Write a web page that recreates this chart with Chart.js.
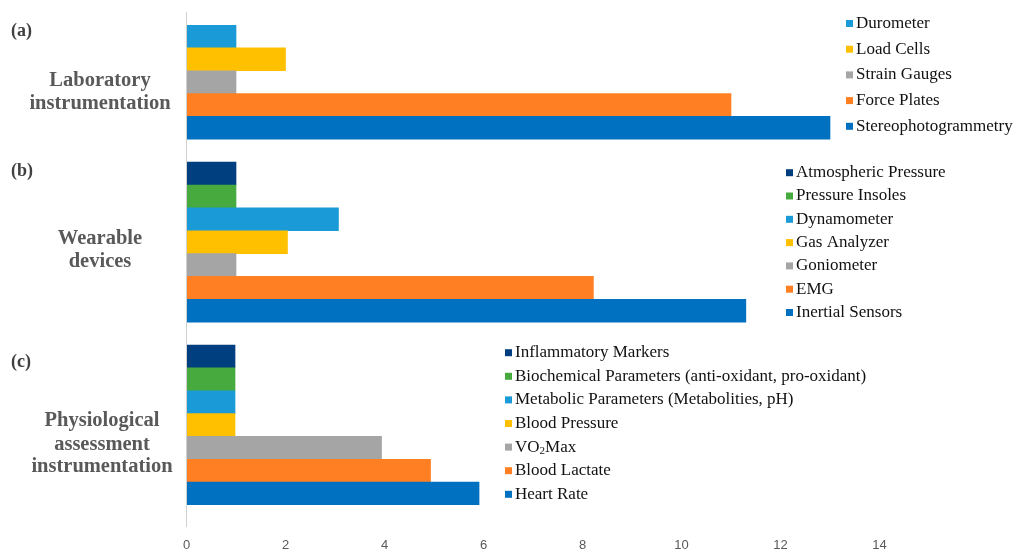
<!DOCTYPE html>
<html>
<head>
<meta charset="utf-8">
<script src="https://cdn.jsdelivr.net/npm/chart.js@4.4.1/dist/chart.umd.min.js"></script>
<style>
  html, body { margin: 0; padding: 0; background: #fff; }
  #wrap { width: 1018px; height: 554px; position: relative; }
</style>
</head>
<body>
<div id="wrap"><canvas id="chart" width="1018" height="554"></canvas></div>
<script>
// panel (a) laboratory instrumentation
var labNames = ['Durometer', 'Load Cells', 'Strain Gauges', 'Force Plates', 'Stereophotogrammetry'];
var labValues = [1, 2, 1, 11, 13];
var labColors = ['#1A9AD6', '#FFC000', '#A5A5A5', '#FF7F22', '#0070C0'];

// panel (b) wearable devices
var wearNames = ['Atmospheric Pressure', 'Pressure Insoles', 'Dynamometer', 'Gas Analyzer', 'Goniometer', 'EMG', 'Inertial Sensors'];
var wearValues = [1, 1, 3.07, 2.04, 1, 8.22, 11.3];
var wearColors = ['#003F7F', '#46AA3F', '#1A9AD6', '#FFC000', '#A5A5A5', '#FF7F22', '#0070C0'];

// panel (c) physiological assessment
var physNames = ['Inflammatory Markers', 'Biochemical Parameters (anti-oxidant, pro-oxidant)', 'Metabolic Parameters (Metabolities, pH)', 'Blood Pressure', 'VO2Max', 'Blood Lactate', 'Heart Rate'];
var physValues = [0.98, 0.98, 0.98, 0.98, 3.94, 4.93, 5.91];
var physColors = ['#003F7F', '#46AA3F', '#1A9AD6', '#FFC000', '#A5A5A5', '#FF7F22', '#0070C0'];

var xTicks = [0, 2, 4, 6, 8, 10, 12, 14];

// one category row per bar, one empty row between panels
var labels = [].concat(labNames, [' '], wearNames, ['  '], physNames);
var values = [].concat(labValues, [null], wearValues, [null], physValues);
var colors = [].concat(labColors, ['#fff'], wearColors, ['#fff'], physColors);

var serif = '"Liberation Serif", "DejaVu Serif", serif';

function drawLegend(ctx, names, cols, x, y0, step) {
  ctx.font = '17px ' + serif;
  ctx.textBaseline = 'middle';
  ctx.textAlign = 'left';
  names.forEach(function (n, i) {
    var y = y0 + i * step;
    ctx.fillStyle = cols[i];
    ctx.fillRect(x, y - 3.5, 7, 7);
    ctx.fillStyle = '#111';
    if (n === 'VO2Max') {
      var tx = x + 10;
      ctx.fillText('VO', tx, y);
      tx += ctx.measureText('VO').width;
      ctx.font = '11px ' + serif;
      ctx.fillText('2', tx, y + 4);
      tx += ctx.measureText('2').width;
      ctx.font = '17px ' + serif;
      ctx.fillText('Max', tx, y);
    } else {
      ctx.fillText(n, x + 10, y);
    }
  });
}

var decor = {
  id: 'decor',
  afterDraw: function (chart) {
    var ctx = chart.ctx;
    var x0 = chart.scales.x.getPixelForValue(0);
    ctx.save();
    // vertical axis line
    ctx.strokeStyle = '#D0D0D0';
    ctx.lineWidth = 1;
    ctx.beginPath();
    ctx.moveTo(x0, 12);
    ctx.lineTo(x0, 527);
    ctx.stroke();

    // panel letters
    ctx.fillStyle = '#404040';
    ctx.font = 'bold 18px ' + serif;
    ctx.textBaseline = 'middle';
    ctx.textAlign = 'left';
    ctx.fillText('(a)', 11, 31);
    ctx.fillText('(b)', 11, 171);
    ctx.fillText('(c)', 11, 362);

    // group titles
    ctx.fillStyle = '#595959';
    ctx.font = 'bold 20.5px ' + serif;
    ctx.textAlign = 'center';
    ctx.fillText('Laboratory', 100, 81);
    ctx.fillText('instrumentation', 100, 104);
    ctx.fillText('Wearable', 100, 239);
    ctx.fillText('devices', 100, 262);
    ctx.fillText('Physiological', 102, 421);
    ctx.fillText('assessment', 102, 445);
    ctx.fillText('instrumentation', 102, 467);

    drawLegend(ctx, labNames, labColors, 846, 23.5, 25.7);
    drawLegend(ctx, wearNames, wearColors, 786, 172.7, 23.3);
    drawLegend(ctx, physNames, physColors, 505, 352.7, 23.6);
    ctx.restore();
  }
};

Chart.defaults.font.family = '"Liberation Sans", Arial, sans-serif';

new Chart(document.getElementById('chart'), {
  type: 'bar',
  data: {
    labels: labels,
    datasets: [{
      data: values,
      backgroundColor: colors,
      borderWidth: 0,
      barPercentage: 1,
      categoryPercentage: 1
    }]
  },
  options: {
    indexAxis: 'y',
    responsive: false,
    animation: false,
    layout: { padding: { left: 186.5, right: 138.5, top: 25, bottom: 0 } },
    scales: {
      x: {
        min: 0,
        max: 14,
        afterBuildTicks: function (axis) {
          axis.ticks = xTicks.map(function (v) { return { value: v }; });
        },
        afterFit: function (axis) { axis.height = 49; },
        grid: { display: false, drawTicks: false },
        border: { display: false },
        ticks: { color: '#595959', font: { size: 13 }, padding: 33, maxRotation: 0 }
      },
      y: {
        grid: { display: false, drawTicks: false },
        border: { display: false },
        ticks: { display: false }
      }
    },
    plugins: {
      legend: { display: false },
      tooltip: { enabled: false }
    }
  },
  plugins: [decor]
});
</script>
</body>
</html>
